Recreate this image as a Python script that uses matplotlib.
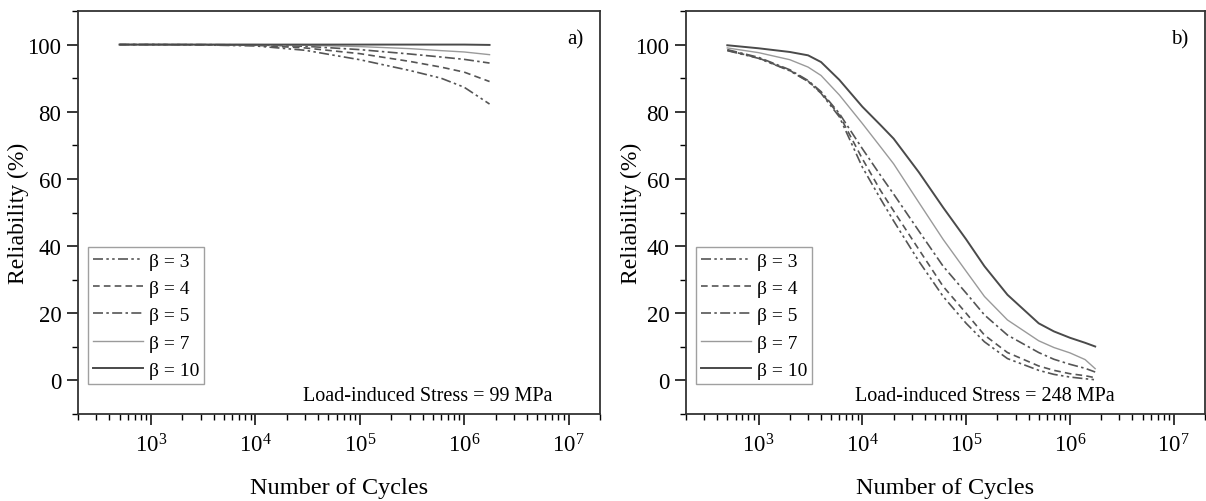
import numpy as np
import matplotlib
matplotlib.use('Agg')
import matplotlib.pyplot as plt
from matplotlib.ticker import LogLocator, NullFormatter, MultipleLocator

plt.rcParams['font.family'] = ['Liberation Serif', 'DejaVu Serif']
plt.rcParams['mathtext.fontset'] = 'custom'
plt.rcParams['mathtext.rm'] = 'Liberation Serif'
plt.rcParams['mathtext.it'] = 'Liberation Serif:italic'

# panel a) load-induced stress 99 MPa
cycles_a = [500, 1e3, 3e3, 1e4, 3e4, 1e5, 3e5, 6e5, 1e6, 1.75e6]
rel_a = {
    3:  [100, 100, 99.9, 99.6, 98.3, 95.5, 92.3, 90.0, 87.3, 82.3],
    4:  [100, 100, 99.95, 99.8, 99.0, 97.3, 95.0, 93.3, 91.8, 89.0],
    5:  [100, 100, 100, 99.9, 99.5, 98.5, 97.2, 96.3, 95.6, 94.5],
    7:  [100, 100, 100, 100, 99.8, 99.4, 98.8, 98.2, 97.8, 97.0],
    10: [100, 100, 100, 100, 100, 100, 100, 100, 100, 99.9],
}

# panel b) load-induced stress 248 MPa
cycles_b = [500, 1e3, 2e3, 3e3, 4e3, 6e3, 1e4, 1.5e4, 2e4, 3.5e4, 6e4, 1e5,
            1.5e5, 2.5e5, 5e5, 7e5, 1e6, 1.4e6, 1.75e6]
rel_b = {
    3:  [98.2, 95.9, 92.2, 89.0, 85.5, 78.5, 63.5, 54.0, 47.5, 35.5, 25.0, 17.0,
         11.5, 6.5, 3.0, 1.8, 1.0, 0.5, 0.2],
    4:  [98.3, 96.0, 92.3, 89.1, 85.7, 79.0, 66.0, 56.5, 50.5, 39.0, 28.0, 20.0,
         13.5, 8.3, 4.3, 3.0, 2.0, 1.4, 0.8],
    5:  [98.5, 96.2, 92.5, 89.3, 86.0, 79.5, 69.0, 61.0, 55.5, 44.5, 34.0, 26.0,
         19.5, 13.5, 8.3, 6.3, 4.8, 3.6, 2.5],
    7:  [99.0, 97.6, 95.5, 93.3, 90.8, 85.0, 76.5, 69.5, 64.5, 53.0, 42.0, 32.5,
         25.0, 18.0, 11.8, 9.8, 8.2, 6.2, 3.5],
    10: [99.8, 98.9, 97.8, 96.8, 94.8, 89.5, 81.5, 76.0, 72.0, 62.0, 51.5, 42.0,
         34.0, 25.5, 17.0, 14.6, 12.7, 11.2, 10.1],
}

betas = [3, 4, 5, 7, 10]
styles = {
    3:  dict(color='#555555', lw=1.2, ls=(0, (6, 2, 1.5, 2, 1.5, 2))),
    4:  dict(color='#555555', lw=1.2, ls=(0, (4, 2.5))),
    5:  dict(color='#555555', lw=1.2, ls=(0, (6, 2, 1.5, 2))),
    7:  dict(color='#9a9a9a', lw=1.0, ls='-'),
    10: dict(color='#4a4a4a', lw=1.4, ls='-'),
}

fig = plt.figure(figsize=(12.06, 5.02), dpi=100)
ax_a = fig.add_axes([78 / 1206, 87 / 502, 522 / 1206, 403 / 502])
ax_b = fig.add_axes([686 / 1206, 87 / 502, 519 / 1206, 403 / 502])

panels = [
    (ax_a, cycles_a, rel_a, 'a)', 'Load-induced Stress = 99 MPa', 0.67, -0.094),
    (ax_b, cycles_b, rel_b, 'b)', 'Load-induced Stress = 248 MPa', 0.576, -0.085),
]

for ax, cyc, rel, tag, note, note_x, ylab_x in panels:
    for b in betas:
        ax.plot(cyc, rel[b], label='β = %d' % b, **styles[b])
    ax.set_xscale('log')
    ax.set_xlim(200, 2e7)
    ax.set_ylim(-10, 110)
    ax.yaxis.set_major_locator(MultipleLocator(20))
    ax.yaxis.set_minor_locator(MultipleLocator(10))
    ax.xaxis.set_major_locator(LogLocator(base=10, numticks=10))
    ax.xaxis.set_minor_locator(LogLocator(base=10, subs=np.arange(2, 10), numticks=20))
    ax.xaxis.set_minor_formatter(NullFormatter())
    ax.tick_params(which='major', direction='out', length=8, width=1.1,
                   labelsize=16.5, top=False, right=False, pad=4)
    ax.tick_params(which='minor', direction='out', length=4, width=1.0,
                   top=False, right=False)
    ax.tick_params(axis='x', which='major', pad=6)
    for sp in ax.spines.values():
        sp.set_linewidth(1.3)
        sp.set_color('#333333')
    ax.set_xlabel('Number of Cycles', fontsize=17.5, labelpad=15)
    ax.set_ylabel('Reliability (%)', fontsize=17)
    ax.yaxis.set_label_coords(ylab_x, 0.5)
    ax.text(0.952, 0.93, tag, transform=ax.transAxes, fontsize=15,
            ha='center', va='center')
    ax.text(note_x, 0.045, note, transform=ax.transAxes, fontsize=14.5,
            ha='center', va='center')
    leg = ax.legend(loc='lower left', bbox_to_anchor=(0.019, 0.075),
                    fontsize=14, frameon=True, fancybox=False,
                    handlelength=2.6, handletextpad=0.3, labelspacing=0.5,
                    borderpad=0.25, borderaxespad=0.0)
    leg.get_frame().set_edgecolor('#888888')
    leg.get_frame().set_linewidth(1.0)

fig.savefig('out.png', dpi=100)
